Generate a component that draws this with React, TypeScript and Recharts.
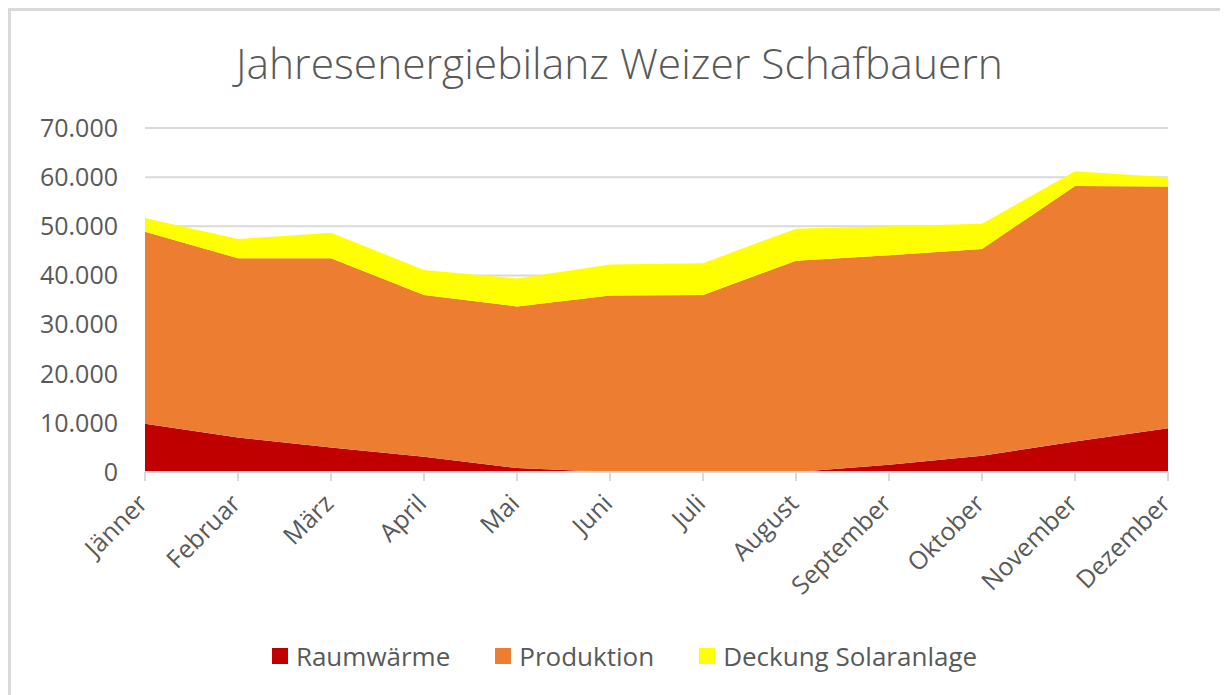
import React from "react";
import { AreaChart, Area, XAxis, YAxis, CartesianGrid, Legend } from "recharts";

const months = ["Jänner", "Februar", "März", "April", "Mai", "Juni", "Juli", "August", "September", "Oktober", "November", "Dezember"];
const raumwaerme = [9800, 7000, 5000, 3100, 800, 0, 0, 0, 1500, 3300, 6200, 8900];
const produktion = [39100, 36500, 38500, 32900, 32900, 35900, 36000, 43000, 42600, 42100, 52000, 49200];
const solar = [2800, 3900, 5200, 5100, 5700, 6300, 6500, 6500, 5900, 5100, 3000, 1900];
const yTicks = [0, 10000, 20000, 30000, 40000, 50000, 60000, 70000];

const seriesNames = ["Raumwärme", "Produktion", "Deckung Solaranlage"];
const seriesColors = ["#C00000", "#ED7D31", "#FFFF00"];

const data = months.map((m, i) => ({
  month: m,
  raum: raumwaerme[i],
  prod: produktion[i],
  solar: solar[i],
}));

const FONT = "'Open Sans', 'Liberation Sans', sans-serif";
const TEXT = "#595959";

const fmt = (v: number) => (v === 0 ? "0" : v.toLocaleString("de-DE"));

const XTick = (props: any) => {
  const { x, y, payload } = props;
  const ax = x + 4;
  const ay = y + 22;
  return (
    <text
      x={ax}
      y={ay}
      transform={`rotate(-45 ${ax} ${ay})`}
      textAnchor="end"
      fill={TEXT}
      fontSize={25}
      fontFamily={FONT}
    >
      {payload.value}
    </text>
  );
};

const LegendContent = () => (
  <div style={{ height: 0, position: "relative" }}>
    <div
      style={{
        position: "absolute",
        top: 0,
        left: 0,
        width: 1217,
        height: 30,
        display: "flex",
        justifyContent: "center",
        alignItems: "center",
        paddingLeft: 10,
        boxSizing: "border-box",
        fontFamily: FONT,
        fontSize: 26,
        color: TEXT,
      }}
    >
      {seriesNames.map((n, i) => (
        <div key={n} style={{ display: "flex", alignItems: "center", marginLeft: i === 0 ? 0 : 45 }}>
          <div style={{ width: 16, height: 16, background: seriesColors[i], marginRight: 8 }} />
          <span style={{ lineHeight: "30px", whiteSpace: "nowrap" }}>{n}</span>
        </div>
      ))}
    </div>
  </div>
);

export default function App() {
  return (
    <div
      style={{
        position: "relative",
        width: 1217,
        height: 684,
        borderTop: "3px solid #D9D9D9",
        borderLeft: "3px solid #D9D9D9",
        overflow: "hidden",
        background: "#fff",
      }}
    >
      <style>{`html, body { overflow: hidden; }`}</style>
      <div
        style={{
          position: "absolute",
          top: 31,
          left: 0,
          width: 1217,
          textAlign: "center",
          fontFamily: FONT,
          fontSize: 42.5,
          lineHeight: "42px",
          fontWeight: 300,
          color: TEXT,
          whiteSpace: "nowrap",
        }}
      >
        Jahresenergiebilanz Weizer Schafbauern
      </div>
      <AreaChart
        width={1217}
        height={684}
        data={data}
        margin={{ top: 117, right: 60, bottom: 0, left: 0 }}
      >
        <CartesianGrid vertical={false} stroke="#D9D9D9" strokeWidth={2} />
        <XAxis
          dataKey="month"
          height={223}
          interval={0}
          axisLine={{ stroke: "#D9D9D9", strokeWidth: 2 }}
          tickLine={{ stroke: "#D9D9D9", strokeWidth: 2 }}
          tickSize={9}
          tick={<XTick />}
        />
        <YAxis
          width={134}
          domain={[0, 70000]}
          ticks={yTicks}
          interval={0}
          axisLine={false}
          tickLine={false}
          tickMargin={21}
          tickFormatter={fmt}
          tick={{ fill: TEXT, fontSize: 25, fontFamily: FONT }}
        />
        <Area
          type="linear"
          dataKey="raum"
          name={seriesNames[0]}
          stackId="1"
          stroke="none"
          fill={seriesColors[0]}
          fillOpacity={1}
          isAnimationActive={false}
        />
        <Area
          type="linear"
          dataKey="prod"
          name={seriesNames[1]}
          stackId="1"
          stroke="none"
          fill={seriesColors[1]}
          fillOpacity={1}
          isAnimationActive={false}
        />
        <Area
          type="linear"
          dataKey="solar"
          name={seriesNames[2]}
          stackId="1"
          stroke="none"
          fill={seriesColors[2]}
          fillOpacity={1}
          isAnimationActive={false}
        />
        <Legend
          content={<LegendContent />}
          wrapperStyle={{ top: 630, bottom: "auto", left: 0, width: 1217, height: 0 }}
        />
      </AreaChart>
    </div>
  );
}
